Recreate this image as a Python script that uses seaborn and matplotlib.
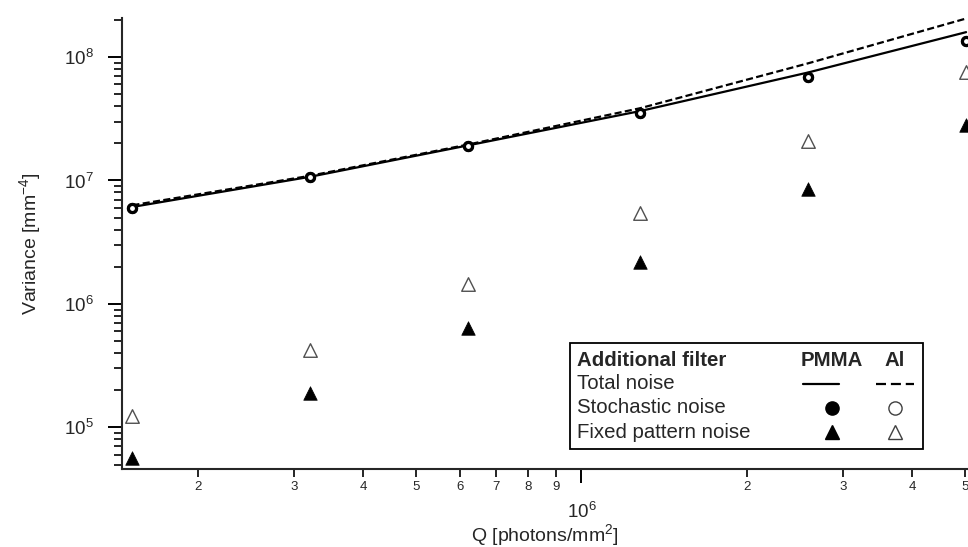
import matplotlib
matplotlib.use("Agg")
import numpy as np
import pandas as pd
import matplotlib.pyplot as plt
import matplotlib.ticker as mticker
from matplotlib.lines import Line2D
from matplotlib.patches import Rectangle
import seaborn as sns

# photon fluence Q [photons/mm^2]
q = [1.52e5, 3.2e5, 6.2e5, 1.28e6, 2.59e6, 5.02e6]

# variance [mm^-4]
total_pmma = [6.1e6, 1.07e7, 1.92e7, 3.65e7, 7.5e7, 1.59e8]
total_al = [6.3e6, 1.09e7, 1.95e7, 3.85e7, 8.9e7, 2.05e8]
stoch_pmma = [6.0e6, 1.06e7, 1.89e7, 3.55e7, 6.84e7, 1.36e8]
stoch_al = [6.0e6, 1.06e7, 1.89e7, 3.55e7, 6.84e7, 1.36e8]
fpn_pmma = [5.6e4, 1.89e5, 6.4e5, 2.2e6, 8.6e6, 2.8e7]
fpn_al = [1.23e5, 4.24e5, 1.45e6, 5.4e6, 2.07e7, 7.5e7]

df = pd.DataFrame({"Q": q, "total_pmma": total_pmma, "total_al": total_al,
                   "stoch_pmma": stoch_pmma, "stoch_al": stoch_al,
                   "fpn_pmma": fpn_pmma, "fpn_al": fpn_al})

sns.set_style("ticks")
plt.rcParams["font.family"] = ["Liberation Sans", "DejaVu Sans"]
plt.rcParams["mathtext.default"] = "regular"
plt.rcParams["axes.linewidth"] = 1.5

fig = plt.figure(figsize=(9.68, 5.47), dpi=100)
ax = fig.add_axes([0.126, 0.1426, 0.874, 0.8245])

# total noise lines
sns.lineplot(data=df, x="Q", y="total_pmma", ax=ax, color="black", lw=1.6, zorder=2)
sns.lineplot(data=df, x="Q", y="total_al", ax=ax, color="black", lw=1.6,
             linestyle=(0, (3.2, 1.5)), zorder=2)

# stochastic noise
sns.scatterplot(data=df, x="Q", y="stoch_pmma", ax=ax, marker="o", s=65,
                color="black", edgecolor="black", linewidth=0, zorder=3)
sns.scatterplot(data=df, x="Q", y="stoch_al", ax=ax, marker="o", s=34,
                color="white", edgecolor="black", linewidth=2.3, zorder=4)

# fixed pattern noise
sns.scatterplot(data=df, x="Q", y="fpn_pmma", ax=ax, marker="^", s=95,
                color="black", edgecolor="black", linewidth=0.5, zorder=3)
sns.scatterplot(data=df, x="Q", y="fpn_al", ax=ax, marker="^", s=95,
                color="white", edgecolor="#505050", linewidth=1.0, zorder=3)

ax.set_xscale("log")
ax.set_yscale("log")
ax.set_xlim(1.455e5, 5.06e6)
ax.set_ylim(4.6e4, 2.07e8)
sns.despine(ax=ax)

ax.xaxis.set_major_locator(mticker.LogLocator(base=10))
ax.xaxis.set_minor_locator(mticker.LogLocator(base=10, subs=np.arange(2, 10)))
ax.xaxis.set_major_formatter(mticker.LogFormatterSciNotation())
ax.xaxis.set_minor_formatter(mticker.FuncFormatter(
    lambda v, p: "%d" % round(v / 10 ** np.floor(np.log10(v) + 1e-9))))
ax.yaxis.set_major_locator(mticker.LogLocator(base=10))
ax.yaxis.set_minor_locator(mticker.LogLocator(base=10, subs=np.arange(2, 10)))
ax.yaxis.set_minor_formatter(mticker.NullFormatter())

ax.tick_params(axis="both", which="major", direction="out", length=10, width=1.4,
               color="black")
ax.tick_params(axis="both", which="minor", direction="out", length=5.5, width=1.2,
               color="black")
ax.tick_params(axis="y", which="major", labelsize=13.5, pad=10)
ax.tick_params(axis="x", which="major", labelsize=13.5, pad=14)
ax.tick_params(axis="x", which="minor", labelsize=9.5, pad=3)

ax.set_xlabel("Q [photons/mm$^{2}$]", fontsize=14)
ax.set_ylabel("Variance [mm$^{-4}$]", fontsize=14)
ax.xaxis.set_label_coords(0.5, -0.147)
ax.xaxis.label.set_va("center")
ax.yaxis.set_label_coords(-0.093, 0.5)

# table-style legend box
tr = ax.transAxes
fs = 14.7
ax.add_patch(Rectangle((0.5296, 0.0443), 0.4172, 0.2351, transform=tr,
                       fill=True, facecolor="white", edgecolor="black",
                       lw=1.3, zorder=5, clip_on=False))
rows = ["Additional filter", "Total noise", "Stochastic noise", "Fixed pattern noise"]
row_y = [0.2395, 0.1885, 0.1353, 0.082]
for i, (lab, yy) in enumerate(zip(rows, row_y)):
    ax.text(0.538, yy, lab, transform=tr, fontsize=fs, va="center", ha="left",
            fontweight="bold" if i == 0 else "normal", zorder=6)
ax.text(0.839, row_y[0], "PMMA", transform=tr, fontsize=fs, fontweight="bold",
        va="center", ha="center", zorder=6)
ax.text(0.9137, row_y[0], "Al", transform=tr, fontsize=fs, fontweight="bold",
        va="center", ha="center", zorder=6)
glyphs = [
    Line2D([0.805, 0.8475], [row_y[1]] * 2, color="black", lw=1.6),
    Line2D([0.891, 0.936], [row_y[1]] * 2, color="black", lw=1.6, ls=(0, (4.5, 2.2))),
    Line2D([0.839], [row_y[2]], marker="o", ms=9.5, color="black", ls="none"),
    Line2D([0.9137], [row_y[2]], marker="o", ms=9.5, mfc="white", mec="#404040",
           mew=1.0, ls="none"),
    Line2D([0.839], [row_y[3]], marker="^", ms=10, color="black", ls="none"),
    Line2D([0.9137], [row_y[3]], marker="^", ms=10, mfc="white", mec="#404040",
           mew=1.0, ls="none"),
]
for g in glyphs:
    g.set_transform(tr)
    g.set_zorder(6)
    g.set_clip_on(False)
    ax.add_line(g)

fig.savefig("out.png", dpi=100)
